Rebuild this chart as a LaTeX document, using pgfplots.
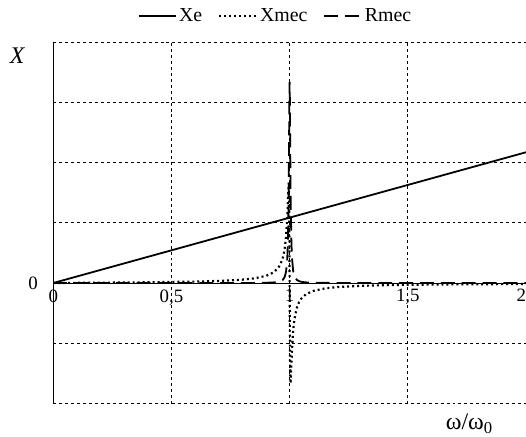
\documentclass[border=0pt]{standalone}
\usepackage{fontspec}
\setmainfont{Liberation Serif}
\usepackage{pgfplots}
\pgfplotsset{compat=1.18}

\begin{document}
\begin{tikzpicture}[trim axis right]
\begin{axis}[
    scale only axis,
    width=476pt,
    height=364pt,
    axis lines=middle,
    axis line style={black, line width=1pt, -},
    xmin=0, xmax=2,
    ymin=-2, ymax=4,
    xtick={0,0.5,1,1.5,2},
    xticklabels={0,{0,5},1,{1,5},\makebox[0pt][r]{2}},
    ytick={-2,-1,0,1,2,3,4},
    yticklabels={,,0,,,,},
    hide obscured x ticks=false,
    hide obscured y ticks=false,
    major tick length=0pt,
    xticklabel style={font=\fontsize{19}{22}\selectfont, anchor=north, yshift=-3pt},
    yticklabel style={font=\fontsize{19}{22}\selectfont, anchor=east, xshift=-12pt},
    grid=major,
    major grid style={black, dashed, line width=0.7pt},
    xlabel={ω/ω\textsubscript{0}},
    xlabel style={font=\fontsize{24}{26}\selectfont, at={(axis description cs:0.88,0)}, anchor=north, yshift=-7pt},
    ylabel={\textit{X}},
    ylabel style={font=\fontsize{24}{26}\selectfont, at={(axis description cs:0,1)}, anchor=north east, xshift=-18pt, yshift=-2pt, inner xsep=10pt, rotate=0},
    legend style={font=\fontsize{20}{22}\selectfont, draw=none, fill=none,
        at={(axis description cs:0.47,1)}, anchor=center, yshift=26pt, inner ysep=7pt,
        legend columns=3, /tikz/every even column/.append style={column sep=14pt}},
    legend image code/.code={\draw[#1] (0pt,0pt) -- (38pt,0pt);},
    clip=true,
]
% Xe
\addplot[black, line width=1.8pt] coordinates {(0,0) (2,2.17)};
% Xmec
\addplot[black, line width=2.2pt, dash pattern=on 2pt off 3pt] coordinates {
(0,0) (0.2,0.0052) (0.4,0.0119) (0.6,0.0234) (0.7,0.0343) (0.8,0.0556)
(0.85,0.0765) (0.9,0.1183) (0.93,0.1716) (0.95,0.2423) (0.96,0.3035)
(0.97,0.4042) (0.975,0.483) (0.98,0.598) (0.985,0.779) (0.99,1.092)
(0.9925,1.330) (0.995,1.599) (0.99625,1.667) (0.9975,1.539) (0.99875,1.000)
(1.0,0) (1.00125,-0.9995) (1.0025,-1.538) (1.00375,-1.667) (1.005,-1.601)
(1.0075,-1.336) (1.01,-1.100) (1.015,-0.789) (1.02,-0.609) (1.03,-0.416)
(1.04,-0.316) (1.05,-0.2546) (1.07,-0.184) (1.1,-0.131) (1.15,-0.0891)
(1.2,-0.0682) (1.3,-0.0471) (1.4,-0.0365) (1.5,-0.030) (1.7,-0.0225) (2,-0.0167)
};
% Rmec
\addplot[black, line width=1.8pt, dash pattern=on 14pt off 7pt] coordinates {
(0,0) (0.6,0.0002) (0.7,0.0004) (0.8,0.0009) (0.85,0.0018) (0.9,0.0042)
(0.93,0.0089) (0.95,0.0177) (0.96,0.0279) (0.97,0.0498) (0.975,0.0715)
(0.98,0.111) (0.985,0.193) (0.99,0.407) (0.9925,0.663) (0.995,1.196)
(0.99625,1.664) (0.9975,2.306) (0.99875,3.0) (1.0,3.333) (1.00125,3.0)
(1.0025,2.309) (1.00375,1.670) (1.005,1.204) (1.0075,0.671) (1.01,0.415)
(1.015,0.199) (1.02,0.115) (1.03,0.0528) (1.04,0.0302) (1.05,0.0196)
(1.07,0.0102) (1.1,0.0051) (1.15,0.0024) (1.2,0.0014) (1.3,0.0007)
(1.5,0.0003) (2,0.0001)
};
\legend{Xe,Xmec,Rmec}
\end{axis}
\end{tikzpicture}
\end{document}
